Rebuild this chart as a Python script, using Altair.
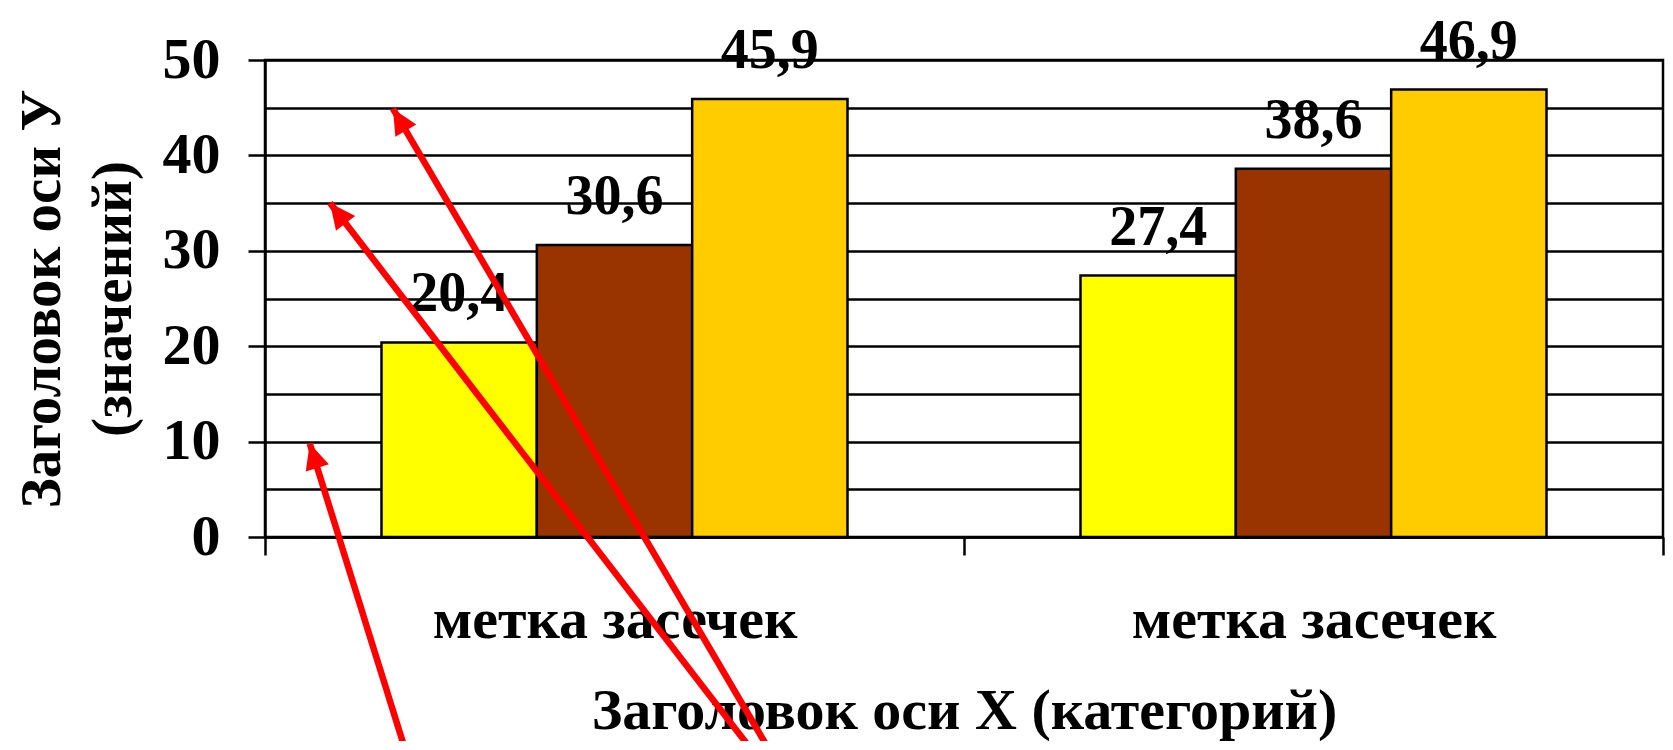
import math
import altair as alt
import pandas as pd

# ---- data ----
categories = ["c1", "c2"]
category_labels = ["метка засечек", "метка засечек"]
series = ["Ряд 1", "Ряд 2", "Ряд 3"]
values_c1 = [20.4, 30.6, 45.9]
values_c2 = [27.4, 38.6, 46.9]
series_colors = ["#FFFF00", "#993300", "#FFCC00"]

y_title = ["Заголовок оси У", "(значений)"]
x_title = "Заголовок оси X (категорий)"

# annotation arrows (x in category units 0..2, y in value units)
arrow_tip_x = [0.064, 0.093, 0.183]
arrow_tip_y = [9.8, 35.0, 44.9]
arrow_tail_x = [0.201, 0.697, 0.722]
arrow_tail_y = [-22.4, -22.4, -22.4]

W, H = 1398, 477
FONT = "Liberation Serif"

rows = []
for cat, vals in zip(categories, [values_c1, values_c2]):
    for s, v in zip(series, vals):
        rows.append({"cat": cat, "series": s, "value": v})
df = pd.DataFrame(rows)

# arrow head orientation from the arrow data (pixel space of the plot)
def px(xu):
    return xu / 2 * W

def py(yv):
    return H - yv / 50 * H

arrows = []
for tx, ty, sx, sy in zip(arrow_tip_x, arrow_tip_y, arrow_tail_x, arrow_tail_y):
    dx = px(tx) - px(sx)
    dy = py(ty) - py(sy)
    ang = math.degrees(math.atan2(dx, -dy)) % 360
    arrows.append({"tx": tx, "ty": ty, "sx": sx, "sy": sy, "ang": ang})
adf = pd.DataFrame(arrows)

cat_arr = "[" + ",".join("'%s'" % c for c in categories) + "]"
lab_arr = "[" + ",".join("'%s'" % l for l in category_labels) + "]"
x_label_expr = f"{lab_arr}[indexof({cat_arr}, datum.value)]"

yscale = alt.Scale(domain=[0, 50], nice=False, zero=True)
xscale = alt.Scale(domain=categories, paddingInner=0, paddingOuter=0)
xoff_scale = alt.Scale(domain=series, paddingInner=0, paddingOuter=0.75)

x_axis = alt.Axis(
    labelExpr=x_label_expr, labelAngle=0, tickBand="extent",
    tickSize=18, tickColor="black", tickWidth=2.5,
    domainColor="black", domainWidth=2.5,
    labelFont=FONT, labelFontSize=58, labelFontWeight="bold", labelColor="black",
    labelBaseline="alphabetic", labelPadding=82, labelLimit=2000, labelOverlap=False,
    title=x_title, titleFont=FONT, titleFontSize=58, titleFontWeight="bold",
    titleColor="black", titleBaseline="alphabetic", titleX=W / 2, titleY=191,
    titleAlign="center", titleLimit=3000,
)

y_axis = alt.Axis(
    values=list(range(0, 51, 5)),
    labelExpr="datum.value % 10 == 0 ? datum.label : ''",
    labelOverlap=False,
    grid=True, gridColor="black", gridWidth=2.5, gridOpacity=1,
    domainColor="black", domainWidth=2.5,
    tickColor="black", tickWidth=2.5, tickSize=17,
    tickOpacity={"condition": {"test": "datum.value % 10 != 0", "value": 0}, "value": 1},
    labelFont=FONT, labelFontSize=58, labelFontWeight="bold", labelColor="black",
    labelPadding=28,
    title=y_title, titleFont=FONT, titleFontSize=57, titleFontWeight="bold",
    titleColor="black", titleAngle=270, titleX=-206, titleY=H / 2,
    titleAlign="center", titleBaseline="alphabetic", titleLineHeight=71,
    titleLimit=3000,
)

bars = alt.Chart(df).mark_bar(stroke="black", strokeWidth=2.5).encode(
    x=alt.X("cat:N", scale=xscale, axis=x_axis, sort=categories),
    xOffset=alt.XOffset("series:N", scale=xoff_scale, sort=series),
    y=alt.Y("value:Q", scale=yscale, axis=y_axis),
    color=alt.Color("series:N", scale=alt.Scale(domain=series, range=series_colors), legend=None),
)

labels = alt.Chart(df).transform_calculate(
    lbl="replace(format(datum.value, '.1f'), '.', ',')"
).mark_text(
    font=FONT, fontSize=56, fontWeight="bold", color="black",
    baseline="alphabetic", align="center", dy=-31,
).encode(
    x=alt.X("cat:N", scale=xscale, axis=x_axis, sort=categories),
    xOffset=alt.XOffset("series:N", scale=xoff_scale, sort=series),
    y=alt.Y("value:Q", scale=yscale, axis=y_axis),
    text="lbl:N",
)

main = alt.layer(bars, labels)

ax_scale = alt.Scale(domain=[0, 2], nice=False, zero=False)
ay_scale = alt.Scale(domain=[0, 50], nice=False, zero=False)

shafts = alt.Chart(adf).mark_rule(color="#FF0000", strokeWidth=6.5, strokeCap="butt").encode(
    x=alt.X("sx:Q", scale=ax_scale, axis=None),
    x2="tx:Q",
    y=alt.Y("sy:Q", scale=ay_scale, axis=None),
    y2="ty:Q",
)

heads = alt.Chart(adf).mark_point(
    shape="M0,0 L0.95,2 L-0.95,2 Z", filled=True, color="#FF0000",
    opacity=1, strokeWidth=0, size=650,
).encode(
    x=alt.X("tx:Q", scale=ax_scale, axis=None),
    y=alt.Y("ty:Q", scale=ay_scale, axis=None),
    angle=alt.Angle("ang:Q", scale=None),
)

arrow_layer = alt.layer(shafts, heads)

chart = alt.layer(main, arrow_layer).resolve_scale(
    x="independent", y="independent"
).properties(
    width=W, height=H,
    autosize=alt.AutoSizeParams(type="none"),
    padding={"left": 257, "top": 52, "right": 2, "bottom": 204},
    background="white",
).configure_view(stroke="black", strokeWidth=2.5)

chart.save("out.html", embed_options={"renderer": "svg", "actions": False})
